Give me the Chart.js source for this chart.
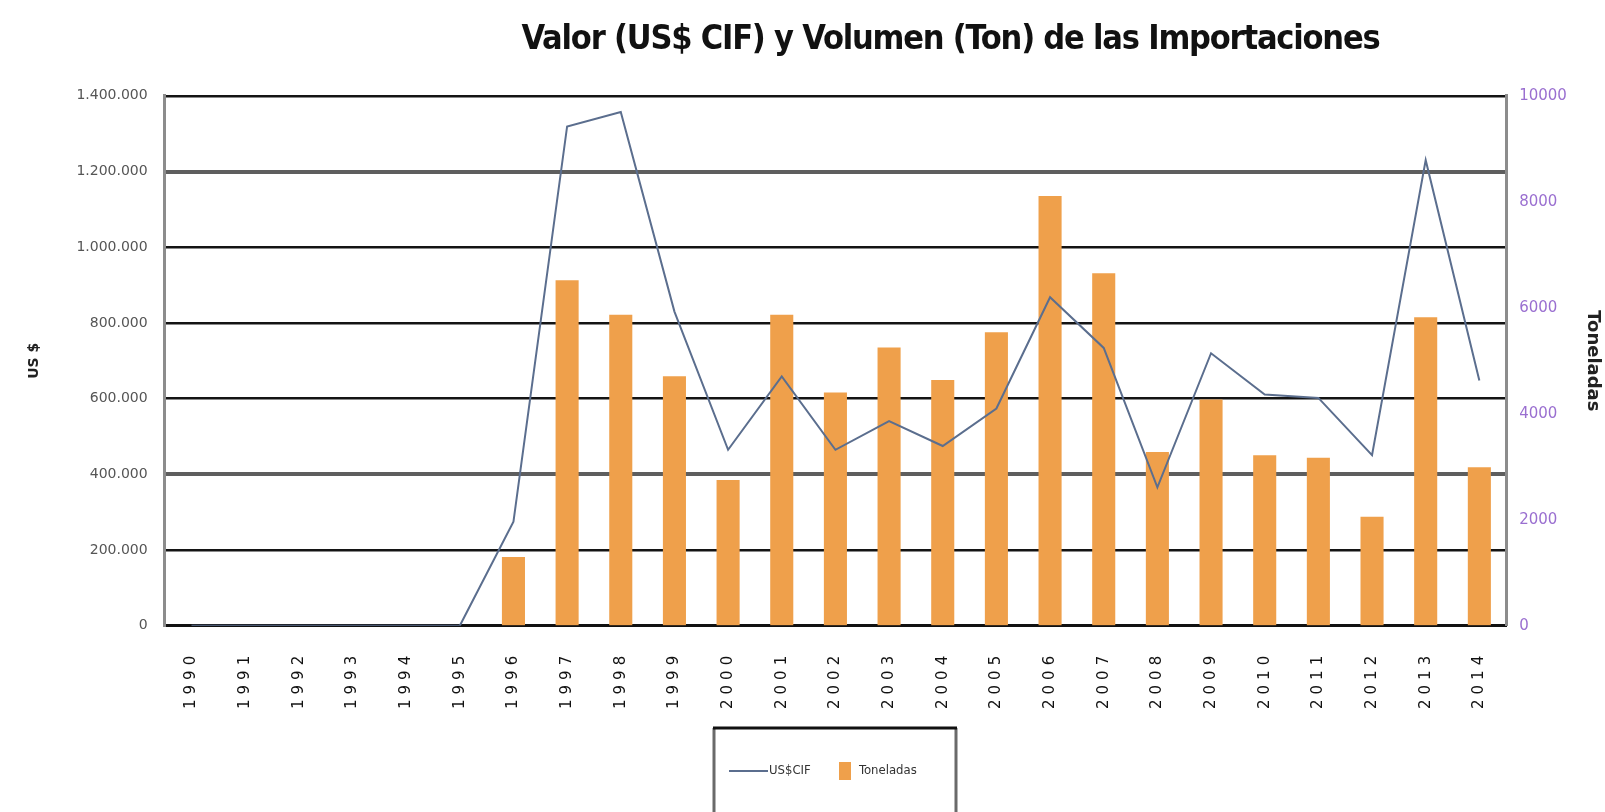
<!DOCTYPE html>
<html>
<head>
<meta charset="utf-8">
<title>Importaciones</title>
<script src="https://cdn.jsdelivr.net/npm/chart.js@4/dist/chart.umd.min.js"></script>
<style>
  html, body { margin: 0; padding: 0; background: #fff; }
  #wrap { position: relative; width: 1605px; height: 812px; }
</style>
</head>
<body>
<div id="wrap"><canvas id="chart"></canvas></div>
<script>
"use strict";

// ── Datos ──
var years = ["1990","1991","1992","1993","1994","1995","1996","1997","1998","1999","2000","2001",
  "2002","2003","2004","2005","2006","2007","2008","2009","2010","2011","2012","2013","2014"];
var usdCif = [0, 0, 0, 0, 0, 0, 275000, 1319000, 1357000, 830000, 465000, 659000,
  465000, 541000, 475000, 574000, 868000, 734000, 366000, 720000, 611000, 602000, 451000, 1230000, 648000];
var toneladas = [0, 0, 0, 0, 0, 0, 1300, 6520, 5870, 4710, 2750, 5870,
  4400, 5250, 4640, 5540, 8110, 6650, 3280, 4270, 3220, 3170, 2060, 5820, 2990];
var usdTicks = [0, 200000, 400000, 600000, 800000, 1000000, 1200000, 1400000];
var tonTicks = [0, 2000, 4000, 6000, 8000, 10000];

var TITLE = "Valor (US$ CIF) y Volumen (Ton) de las Importaciones";
var LINE_CLR = "#5b6e8e";
var BAR_CLR = "#efa04b";
var thickGrid = [400000, 1200000];

function _fmtDots(v) {
  return String(v).replace(/\B(?=(\d{3})+(?!\d))/g, ".");
}

// envuelve el dibujo de un elemento con un letterSpacing propio
function _withSpacing(obj, method, spacing) {
  if (!obj || obj["_sp_" + method]) return;
  var orig = obj[method];
  obj[method] = function() {
    var ctx = this.ctx;
    ctx.save();
    ctx.letterSpacing = spacing;
    orig.apply(this, arguments);
    ctx.restore();
  };
  obj["_sp_" + method] = true;
}

// etiquetas del eje X "estiradas", título más apretado
var textTweaks = {
  id: "textTweaks",
  afterLayout: function(chart) {
    var tb = chart.titleBlock;
    if (tb) { tb.left += 148; tb.right += 148; }
  },
  beforeDraw: function(chart) {
    _withSpacing(chart.scales.x, "drawLabels", "5px");
    _withSpacing(chart.titleBlock, "draw", "-1.2px");
  }
};

// leyenda con marco, dibujada a mano
var legendBox = {
  id: "legendBox",
  afterDraw: function(chart) {
    var ctx = chart.ctx;
    var ds = chart.data.datasets;
    ctx.save();
    ctx.lineWidth = 3;
    ctx.strokeStyle = "#6a6a6a";
    ctx.beginPath();
    ctx.moveTo(714, 830); ctx.lineTo(714, 728);
    ctx.moveTo(956, 728); ctx.lineTo(956, 830);
    ctx.stroke();
    ctx.strokeStyle = "#111";
    ctx.beginPath();
    ctx.moveTo(713, 728); ctx.lineTo(957, 728);
    ctx.stroke();

    ctx.font = "13px 'DejaVu Sans Condensed', 'DejaVu Sans', sans-serif";
    ctx.textBaseline = "middle";
    ctx.textAlign = "left";

    // US$CIF
    ctx.strokeStyle = ds[0].borderColor;
    ctx.lineWidth = 2;
    ctx.beginPath();
    ctx.moveTo(729, 771); ctx.lineTo(768, 771);
    ctx.stroke();
    ctx.fillStyle = "#333";
    ctx.fillText(ds[0].label, 769, 771);

    // Toneladas
    ctx.fillStyle = ds[1].backgroundColor;
    ctx.fillRect(839, 762, 12, 18);
    ctx.fillStyle = "#333";
    ctx.fillText(ds[1].label, 859, 771);
    ctx.restore();
  }
};

new Chart(document.getElementById("chart").getContext("2d"), {
  data: {
    labels: years,
    datasets: [
      {
        type: "line",
        label: "US$CIF",
        data: usdCif,
        yAxisID: "y",
        borderColor: LINE_CLR,
        borderWidth: 2,
        pointRadius: 0,
        tension: 0,
        fill: false
      },
      {
        type: "bar",
        label: "Toneladas",
        data: toneladas,
        yAxisID: "y1",
        backgroundColor: BAR_CLR,
        borderWidth: 0,
        categoryPercentage: 1,
        barPercentage: 0.43
      }
    ]
  },
  options: {
    responsive: true,
    maintainAspectRatio: false,
    animation: false,
    layout: { padding: { left: 0, right: 0, top: 0, bottom: 98 } },
    plugins: {
      legend: { display: false },
      tooltip: { enabled: false },
      title: {
        display: true,
        text: TITLE,
        color: "#111",
        font: { family: "'Liberation Sans Narrow', 'Arial Narrow', 'DejaVu Sans Condensed', sans-serif", size: 34, weight: "bold" },
        padding: { top: 20, bottom: 35 }
      }
    },
    scales: {
      x: {
        grid: { display: false, drawTicks: false },
        border: { display: true, color: "#111", width: 3 },
        ticks: {
          autoSkip: false,
          minRotation: 90,
          maxRotation: 90,
          padding: 25,
          color: "#111",
          font: { family: "'DejaVu Sans', sans-serif", size: 15 }
        }
      },
      y: {
        position: "left",
        min: 0,
        max: 1400000,
        afterBuildTicks: function(axis) {
          axis.ticks = usdTicks.map(function(v) { return { value: v }; });
        },
        grid: {
          drawTicks: false,
          color: function(c) {
            return thickGrid.indexOf(c.tick && c.tick.value) >= 0 ? "#5e5e5e" : "#141414";
          },
          lineWidth: function(c) {
            var v = c.tick && c.tick.value;
            if (thickGrid.indexOf(v) >= 0) return 4;
            return v === 0 ? 3 : 2.5;
          }
        },
        border: { display: true, color: "#8c8c8c", width: 3 },
        ticks: {
          padding: 17,
          color: "#555",
          font: { family: "'DejaVu Sans', sans-serif", size: 14 },
          callback: function(v) { return _fmtDots(v); }
        },
        title: {
          display: true,
          text: "US $",
          color: "#222",
          font: { family: "'DejaVu Sans', sans-serif", size: 14, weight: "bold" },
          padding: { top: 26, bottom: 16.6 }
        }
      },
      y1: {
        position: "right",
        min: 0,
        max: 10000,
        afterBuildTicks: function(axis) {
          axis.ticks = tonTicks.map(function(v) { return { value: v }; });
        },
        grid: { drawOnChartArea: false, drawTicks: false },
        border: { display: true, color: "#8c8c8c", width: 3 },
        ticks: {
          padding: 13,
          color: "#9a6fd0",
          font: { family: "'DejaVu Sans', sans-serif", size: 15 },
          callback: function(v) { return String(v); }
        },
        title: {
          display: true,
          text: "Toneladas",
          color: "#222",
          font: { family: "'DejaVu Sans', sans-serif", size: 18, weight: "bold" },
          padding: { top: 2, bottom: 1.5 }
        }
      }
    }
  },
  plugins: [textTweaks, legendBox]
});
</script>
</body>
</html>
